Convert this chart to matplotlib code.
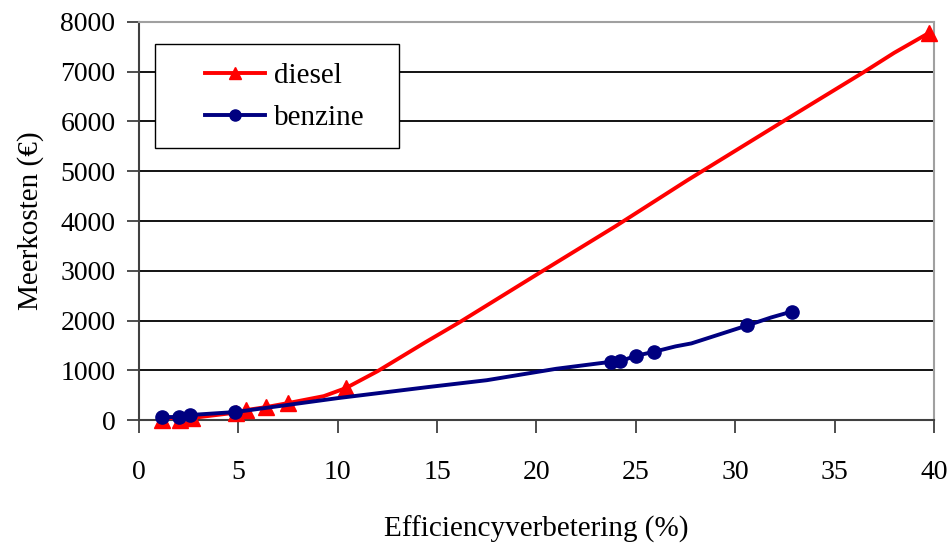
import numpy as np
import matplotlib.pyplot as plt
from matplotlib.patches import Rectangle

# diesel: smoothed curve + marked data points
diesel_line_x = [1.15, 2.05, 2.65, 4.9, 5.4, 6.4, 7.5, 9.3, 10.4, 12.0, 14.4, 16.15, 20.0, 24.0, 27.6, 32.4, 36.5, 38.0, 39.75]
diesel_line_y = [0, 0, 40, 150, 200, 260, 340, 480, 640, 980, 1560, 1970, 2920, 3900, 4820, 6000, 7000, 7380, 7780]
diesel_pts_x = [1.15, 2.05, 2.65, 4.9, 5.4, 6.4, 7.5, 10.4, 39.75]
diesel_pts_y = [0, 0, 40, 150, 200, 260, 340, 640, 7780]

# benzine
benzine_line_x = [1.15, 2.0, 2.55, 4.85, 10.0, 14.5, 17.5, 21.0, 23.75, 24.2, 25.0, 25.9, 27.0, 27.8, 30.6, 31.8, 32.85]
benzine_line_y = [60, 60, 100, 160, 440, 660, 800, 1030, 1170, 1180, 1290, 1370, 1480, 1540, 1900, 2060, 2180]
benzine_pts_x = [1.15, 2.0, 2.55, 4.85, 23.75, 24.2, 25.0, 25.9, 30.6, 32.85]
benzine_pts_y = [60, 60, 100, 160, 1170, 1180, 1290, 1370, 1900, 2180]

plt.rcParams['font.family'] = ['Liberation Serif', 'DejaVu Serif']

fig = plt.figure(figsize=(9.52, 5.43), dpi=100)
ax = fig.add_axes([0.146, 0.2265, 0.835, 0.733])

red = '#ff0000'
blue = '#000080'
lw = 2.8
ax.plot(diesel_line_x, diesel_line_y, color=red, lw=lw, zorder=3)
ax.plot(diesel_pts_x, diesel_pts_y, ls='none', marker='^', ms=11.5, color=red, zorder=4, clip_on=False)
ax.plot(benzine_line_x, benzine_line_y, color=blue, lw=lw, zorder=4.5)
ax.plot(benzine_pts_x, benzine_pts_y, ls='none', marker='o', ms=9.5, color=blue, zorder=4.6, clip_on=False)

# legend box (Excel style, wide padding)
box = Rectangle((0.0201, 0.683), 0.307, 0.261, transform=ax.transAxes,
                facecolor='white', edgecolor='black', lw=1.0, zorder=5)
ax.add_patch(box)
h1, = ax.plot([], [], color=red, lw=lw, marker='^', ms=9)
h2, = ax.plot([], [], color=blue, lw=lw, marker='o', ms=8)
leg = ax.legend([h1, h2], ['diesel', 'benzine'], loc='center left',
                bbox_to_anchor=(0.083, 0.8116), fontsize=21, frameon=False,
                borderpad=0, borderaxespad=0, handlelength=2.05,
                labelspacing=0.55, handletextpad=0.3)
leg.set_zorder(6)

ax.set_xlim(0, 40)
ax.set_ylim(0, 8000)
ax.set_xticks(np.arange(0, 41, 5))
ax.set_yticks(np.arange(0, 8001, 1000))
ax.yaxis.grid(True, color='black', lw=1.3)
ax.set_axisbelow(True)
ax.tick_params(labelsize=20, length=9, width=1.3, color='#404040', direction='out')
ax.tick_params(axis='x', pad=20)
ax.tick_params(axis='y', pad=8)
for s in ['left', 'bottom']:
    ax.spines[s].set_color('#404040')
    ax.spines[s].set_linewidth(1.5)
for s in ['top', 'right']:
    ax.spines[s].set_color('#a0a0a0')
    ax.spines[s].set_linewidth(1.5)

ax.set_xlabel('Efficiencyverbetering (%)', fontsize=21, labelpad=22)
ax.set_ylabel('Meerkosten (€)', fontsize=21, labelpad=12)

fig.savefig('out.png', dpi=100)
